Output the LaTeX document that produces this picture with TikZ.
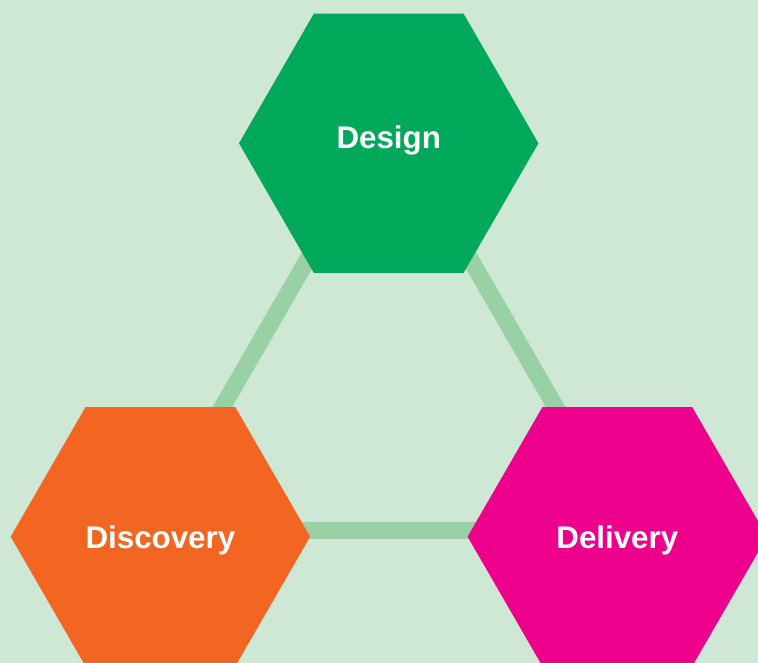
\documentclass[tikz,border=0pt]{standalone}
\usepackage{fontspec}
\setmainfont{Liberation Sans}
\usetikzlibrary{shapes.geometric}
\definecolor{bgc}{RGB}{207,232,214}
\definecolor{linkc}{RGB}{153,209,164}
\definecolor{designc}{RGB}{0,168,89}
\definecolor{discc}{RGB}{243,102,34}
\definecolor{delivc}{RGB}{236,0,140}
\tikzset{
  hexa/.style={regular polygon, regular polygon sides=6, minimum size=299.4pt,
    inner sep=0pt, outer sep=0pt, draw=none},
  hexlabel/.style={anchor=base, inner sep=0pt, text=white,
    font=\bfseries\fontsize{31.3}{36}\selectfont},
  link/.style={draw=linkc, line width=17pt, line join=miter}
}
\begin{document}
\begin{tikzpicture}[x=1pt,y=1pt]
\useasboundingbox (0,0) rectangle (758,663);
\clip (0,0) rectangle (758,663);
\fill[bgc] (0,0) rectangle (758,663);
% triangle of links
\coordinate (ta) at (389,544.4);
\coordinate (tb) at (151,132.5);
\coordinate (tc) at (627,132.5);
\draw[link] (ta) -- (tb) -- (tc) -- cycle;
% hexagons
\node[hexa, fill=designc] (design) at (388.7,519.7) {};
\node[hexa, fill=discc] (discovery) at (160.4,126.3) {};
\node[hexa, fill=delivc] (delivery) at (617.3,126.3) {};
% labels
\node[hexlabel] (designlbl) at ([yshift=-5pt]design.center) {Design};
\node[hexlabel] (discoverylbl) at ([yshift=-11.5pt]discovery.center) {Discovery};
\node[hexlabel] (deliverylbl) at ([yshift=-11.5pt]delivery.center) {Delivery};
\end{tikzpicture}
\end{document}
